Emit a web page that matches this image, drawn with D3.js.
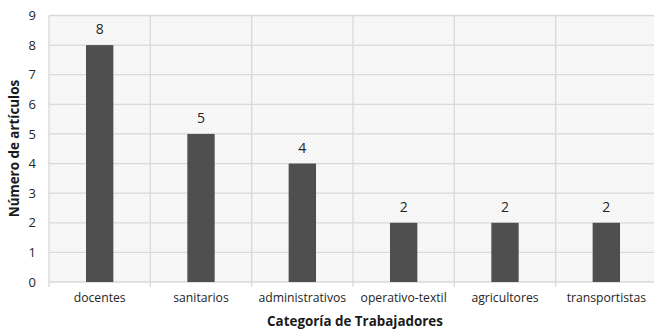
<!DOCTYPE html>
<html>
<head>
<meta charset="utf-8">
<script src="https://cdn.jsdelivr.net/npm/d3@7"></script>
<style>
  html, body { margin: 0; padding: 0; background: #fff; }
  svg { display: block; font-family: "Open Sans", "Liberation Sans", sans-serif; }
</style>
</head>
<body>
<svg id="chart" width="654" height="329"></svg>
<script>
// Articles per worker category
const categories = ["docentes", "sanitarios", "administrativos", "operativo-textil", "agricultores", "transportistas"];
const articles = [8, 5, 4, 2, 2, 2];
const yTicks = [0, 1, 2, 3, 4, 5, 6, 7, 8, 9];
const xTitle = "Categoría de Trabajadores";
const yTitle = "Número de artículos";

const svg = d3.select("#chart");
const plot = { left: 49, right: 657, top: 15.5, bottom: 282 };

const x = d3.scaleBand().domain(categories).range([plot.left, plot.right]).paddingInner(0).paddingOuter(0);
const y = d3.scaleLinear().domain([0, 9]).range([plot.bottom, plot.top]);

// faint dotted fill for the plotting area
const defs = svg.append("defs");
const pat = defs.append("pattern")
  .attr("id", "dots").attr("width", 4).attr("height", 4)
  .attr("patternUnits", "userSpaceOnUse");
pat.append("rect").attr("width", 4).attr("height", 4).attr("fill", "#f8f8f8");
pat.append("rect").attr("x", 0).attr("y", 0).attr("width", 1).attr("height", 1).attr("fill", "#ebebeb");
pat.append("rect").attr("x", 2).attr("y", 2).attr("width", 1).attr("height", 1).attr("fill", "#ebebeb");

svg.append("rect")
  .attr("x", plot.left).attr("y", plot.top)
  .attr("width", plot.right - plot.left).attr("height", plot.bottom - plot.top)
  .attr("fill", "url(#dots)");

// horizontal gridlines
svg.append("g")
  .selectAll("line").data(yTicks.filter(d => d > 0)).join("line")
  .attr("x1", plot.left).attr("x2", plot.right)
  .attr("y1", d => y(d)).attr("y2", d => y(d))
  .attr("stroke", "#d9d9d9").attr("stroke-width", 1.3);

// vertical separators between categories (extend below baseline as tick marks)
const bounds = categories.map(c => x(c)).concat([plot.right]);
svg.append("g")
  .selectAll("line").data(bounds).join("line")
  .attr("x1", d => d).attr("x2", d => d)
  .attr("y1", plot.top).attr("y2", plot.bottom + 5)
  .attr("stroke", "#d9d9d9").attr("stroke-width", 1.3);

// baseline
svg.append("line")
  .attr("x1", plot.left).attr("x2", plot.right)
  .attr("y1", y(0)).attr("y2", y(0))
  .attr("stroke", "#d9d9d9").attr("stroke-width", 1.3);

// bars
const barW = x.bandwidth() * 0.27;
svg.append("g")
  .selectAll("rect").data(categories).join("rect")
  .attr("x", (c) => x(c) + x.bandwidth() / 2 - barW / 2)
  .attr("y", (c, i) => y(articles[i]))
  .attr("width", barW)
  .attr("height", (c, i) => y(0) - y(articles[i]))
  .attr("fill", "#4f4f4f");

// value labels
svg.append("g")
  .selectAll("text").data(categories).join("text")
  .attr("x", c => x(c) + x.bandwidth() / 2)
  .attr("y", (c, i) => y(articles[i]) - 11)
  .attr("text-anchor", "middle")
  .attr("font-size", 14)
  .attr("fill", "#262626")
  .text((c, i) => articles[i]);

// y axis tick labels
svg.append("g")
  .selectAll("text").data(yTicks).join("text")
  .attr("x", 36)
  .attr("y", d => y(d))
  .attr("dy", "0.36em")
  .attr("text-anchor", "end")
  .attr("font-size", 13)
  .attr("fill", "#262626")
  .text(d => d);

// x axis category labels
svg.append("g")
  .selectAll("text").data(categories).join("text")
  .attr("x", c => x(c) + x.bandwidth() / 2)
  .attr("y", 302)
  .attr("text-anchor", "middle")
  .attr("font-size", 12.2)
  .attr("fill", "#262626")
  .text(c => c);

// axis titles
svg.append("text")
  .attr("x", 355).attr("y", 326)
  .attr("text-anchor", "middle")
  .attr("font-size", 13.4).attr("font-weight", "bold")
  .attr("fill", "#1a1a1a")
  .text(xTitle);

svg.append("text")
  .attr("transform", "translate(19,148.5) rotate(-90)")
  .attr("text-anchor", "middle")
  .attr("font-size", 13.4).attr("font-weight", "bold")
  .attr("fill", "#1a1a1a")
  .text(yTitle);
</script>
</body>
</html>
